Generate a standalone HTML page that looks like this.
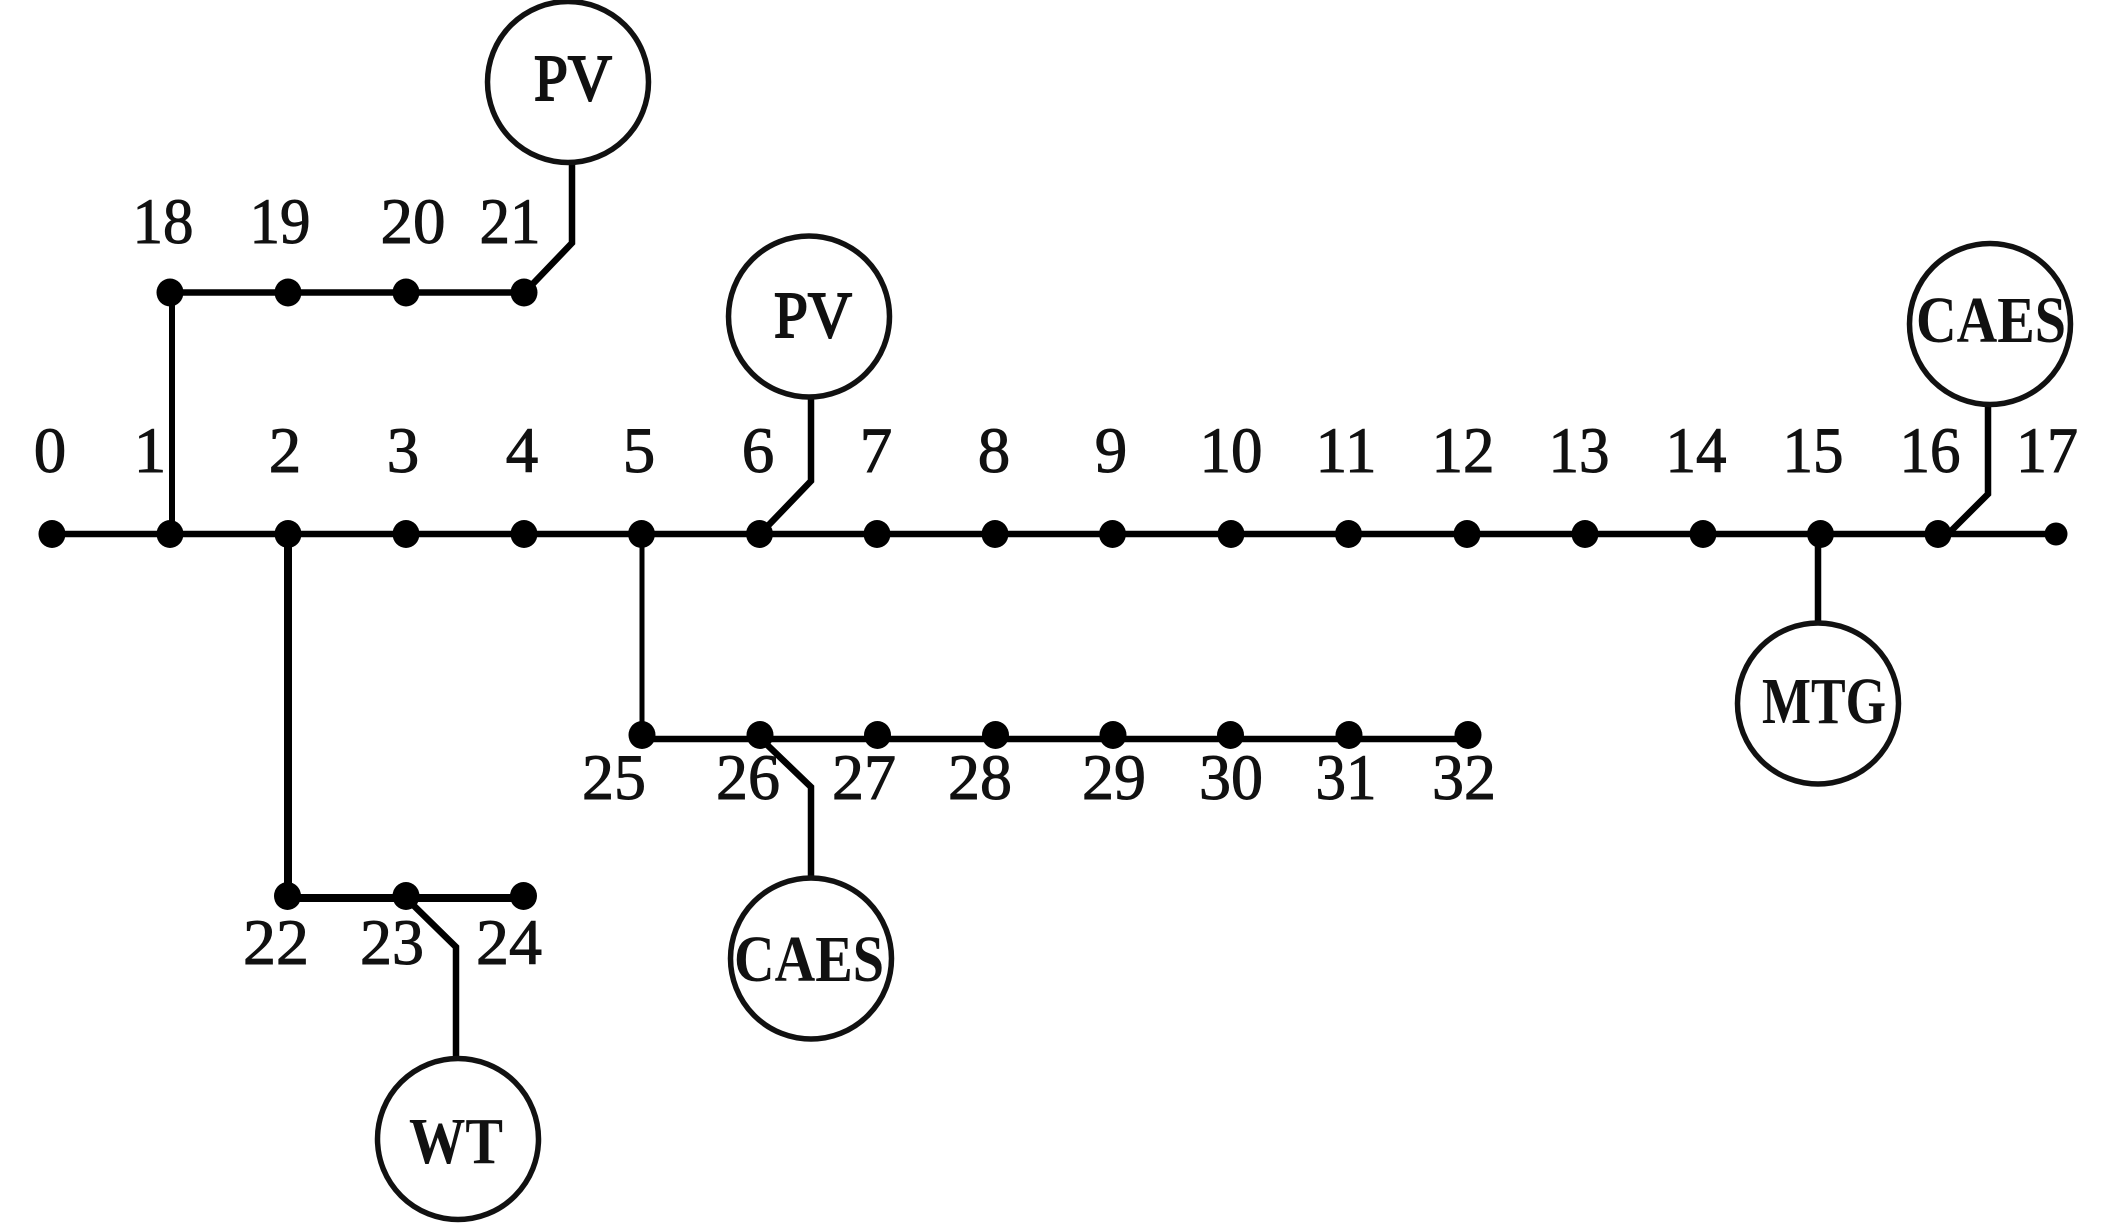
<!DOCTYPE html>
<html>
<head>
<meta charset="utf-8">
<style>
html,body{margin:0;padding:0;background:#fff;}
svg{display:block;}
text{font-family:"Liberation Serif",serif;fill:#111;text-anchor:middle;}
.n{font-size:65px;stroke:#111;stroke-width:1px;}
.b{font-size:66px;font-weight:bold;}
.l{fill:none;stroke:#000;stroke-width:6.5;}
.c{fill:none;stroke:#111;stroke-width:5.5;}
</style>
</head>
<body>
<svg width="2113" height="1223" viewBox="0 0 2113 1223" xmlns="http://www.w3.org/2000/svg">
<rect width="2113" height="1223" fill="#fff"/>

<!-- buses -->
<path class="l" d="M52 534H2056"/>
<path class="l" d="M170 292.500H524"/>
<path class="l" style="stroke-width:6" d="M172 293V534"/>
<path class="l" style="stroke-width:8" d="M288 534V896"/>
<path class="l" style="stroke-width:5" d="M642 534V735"/>
<path class="l" d="M642 739H1468"/>
<path class="l" style="stroke-width:8" d="M287 898H523"/>

<!-- feeders -->
<path class="l" d="M572 163V243L526 291"/>
<path class="l" d="M811 399V481L762 532"/>
<path class="l" d="M1988 406V494L1946 536"/>
<path class="l" d="M1818 534V622"/>
<path class="l" d="M760 738L811 787V877"/>
<path class="l" d="M406 898L456 947V1057"/>

<!-- circles -->
<ellipse class="c" cx="568" cy="82" rx="80.500" ry="80.500"/>
<ellipse class="c" cx="809" cy="316.500" rx="80.500" ry="80.500"/>
<ellipse class="c" cx="1990" cy="324" rx="80.500" ry="80.500"/>
<ellipse class="c" cx="1818" cy="703.500" rx="80.500" ry="80.500"/>
<ellipse class="c" cx="811" cy="958.500" rx="80.500" ry="80.500"/>
<ellipse class="c" cx="458" cy="1139" rx="80.500" ry="80.500"/>

<!-- nodes -->
<g fill="#000">
<ellipse cx="52" cy="534" rx="13.500" ry="14"/>
<ellipse cx="170" cy="534" rx="13.500" ry="14"/>
<ellipse cx="288" cy="534" rx="13.500" ry="14"/>
<ellipse cx="406" cy="534" rx="13.500" ry="14"/>
<ellipse cx="524" cy="534" rx="13.500" ry="14"/>
<ellipse cx="641.500" cy="534" rx="13.500" ry="14"/>
<ellipse cx="759.500" cy="534" rx="13.500" ry="14"/>
<ellipse cx="877" cy="534" rx="13.500" ry="14"/>
<ellipse cx="995" cy="534" rx="13.500" ry="14"/>
<ellipse cx="1112.500" cy="534" rx="13.500" ry="14"/>
<ellipse cx="1231" cy="534" rx="13.500" ry="14"/>
<ellipse cx="1348.500" cy="534" rx="13.500" ry="14"/>
<ellipse cx="1467" cy="534" rx="13.500" ry="14"/>
<ellipse cx="1585" cy="534" rx="13.500" ry="14"/>
<ellipse cx="1703" cy="534" rx="13.500" ry="14"/>
<ellipse cx="1820.500" cy="534" rx="13.500" ry="14"/>
<ellipse cx="1938" cy="534" rx="13.500" ry="14"/>
<ellipse cx="2056" cy="534" rx="11.500" ry="11.500"/>

<ellipse cx="170" cy="292.500" rx="13.500" ry="14"/>
<ellipse cx="288" cy="292.500" rx="13.500" ry="14"/>
<ellipse cx="406" cy="292.500" rx="13.500" ry="14"/>
<ellipse cx="524" cy="292.500" rx="13.500" ry="14"/>

<ellipse cx="642" cy="735" rx="13.500" ry="14"/>
<ellipse cx="760" cy="735" rx="13.500" ry="14"/>
<ellipse cx="877.500" cy="735" rx="13.500" ry="14"/>
<ellipse cx="995.500" cy="735" rx="13.500" ry="14"/>
<ellipse cx="1113" cy="735" rx="13.500" ry="14"/>
<ellipse cx="1230.500" cy="735" rx="13.500" ry="14"/>
<ellipse cx="1349" cy="735" rx="13.500" ry="14"/>
<ellipse cx="1468" cy="735" rx="13.500" ry="14"/>

<ellipse cx="287.500" cy="896" rx="13.500" ry="14"/>
<ellipse cx="406" cy="896" rx="13.500" ry="14"/>
<ellipse cx="523.500" cy="896" rx="13.500" ry="14"/>
</g>

<!-- generator labels -->
<text class="b" style="font-weight:normal;stroke:#111;stroke-width:2px" x="573" y="100" textLength="78" lengthAdjust="spacingAndGlyphs">PV</text>
<text class="b" style="font-weight:normal;stroke:#111;stroke-width:2px" x="813" y="337" textLength="78" lengthAdjust="spacingAndGlyphs">PV</text>
<text class="b" x="1991" y="342" textLength="150" lengthAdjust="spacingAndGlyphs">CAES</text>
<text class="b" x="1824" y="723" textLength="124" lengthAdjust="spacingAndGlyphs">MTG</text>
<text class="b" x="809" y="981" textLength="150" lengthAdjust="spacingAndGlyphs">CAES</text>
<text class="b" x="456" y="1163" textLength="94" lengthAdjust="spacingAndGlyphs">WT</text>

<!-- top labels -->
<text class="n" x="163" y="243" textLength="61" lengthAdjust="spacingAndGlyphs">18</text>
<text class="n" x="280" y="243" textLength="61" lengthAdjust="spacingAndGlyphs">19</text>
<text class="n" x="413" y="243" textLength="65" lengthAdjust="spacingAndGlyphs">20</text>
<text class="n" x="510" y="243" textLength="61" lengthAdjust="spacingAndGlyphs">21</text>

<!-- main row labels -->
<text class="n" x="50" y="472">0</text>
<text class="n" x="150" y="472">1</text>
<text class="n" x="285" y="472">2</text>
<text class="n" x="403" y="472">3</text>
<text class="n" x="522" y="472">4</text>
<text class="n" x="639" y="472">5</text>
<text class="n" x="758" y="472">6</text>
<text class="n" x="876" y="472">7</text>
<text class="n" x="994" y="472">8</text>
<text class="n" x="1111" y="472">9</text>
<text class="n" x="1231" y="472" textLength="63" lengthAdjust="spacingAndGlyphs">10</text>
<text class="n" x="1346" y="472" textLength="61" lengthAdjust="spacingAndGlyphs">11</text>
<text class="n" x="1463" y="472" textLength="63" lengthAdjust="spacingAndGlyphs">12</text>
<text class="n" x="1579" y="472" textLength="61" lengthAdjust="spacingAndGlyphs">13</text>
<text class="n" x="1696" y="472" textLength="61" lengthAdjust="spacingAndGlyphs">14</text>
<text class="n" x="1813" y="472" textLength="61" lengthAdjust="spacingAndGlyphs">15</text>
<text class="n" x="1930" y="472" textLength="61" lengthAdjust="spacingAndGlyphs">16</text>
<text class="n" x="2047" y="472" textLength="62" lengthAdjust="spacingAndGlyphs">17</text>

<!-- branch row labels -->
<text class="n" x="614" y="799" textLength="64" lengthAdjust="spacingAndGlyphs">25</text>
<text class="n" x="748" y="799" textLength="64" lengthAdjust="spacingAndGlyphs">26</text>
<text class="n" x="864" y="799" textLength="64" lengthAdjust="spacingAndGlyphs">27</text>
<text class="n" x="980" y="799" textLength="64" lengthAdjust="spacingAndGlyphs">28</text>
<text class="n" x="1114" y="799" textLength="64" lengthAdjust="spacingAndGlyphs">29</text>
<text class="n" x="1231" y="799" textLength="64" lengthAdjust="spacingAndGlyphs">30</text>
<text class="n" x="1346" y="799" textLength="61" lengthAdjust="spacingAndGlyphs">31</text>
<text class="n" x="1464" y="799" textLength="64" lengthAdjust="spacingAndGlyphs">32</text>

<!-- bottom labels -->
<text class="n" x="276" y="964" textLength="66" lengthAdjust="spacingAndGlyphs">22</text>
<text class="n" x="392" y="964" textLength="64" lengthAdjust="spacingAndGlyphs">23</text>
<text class="n" x="509" y="964" textLength="66" lengthAdjust="spacingAndGlyphs">24</text>
</svg>
</body>
</html>
